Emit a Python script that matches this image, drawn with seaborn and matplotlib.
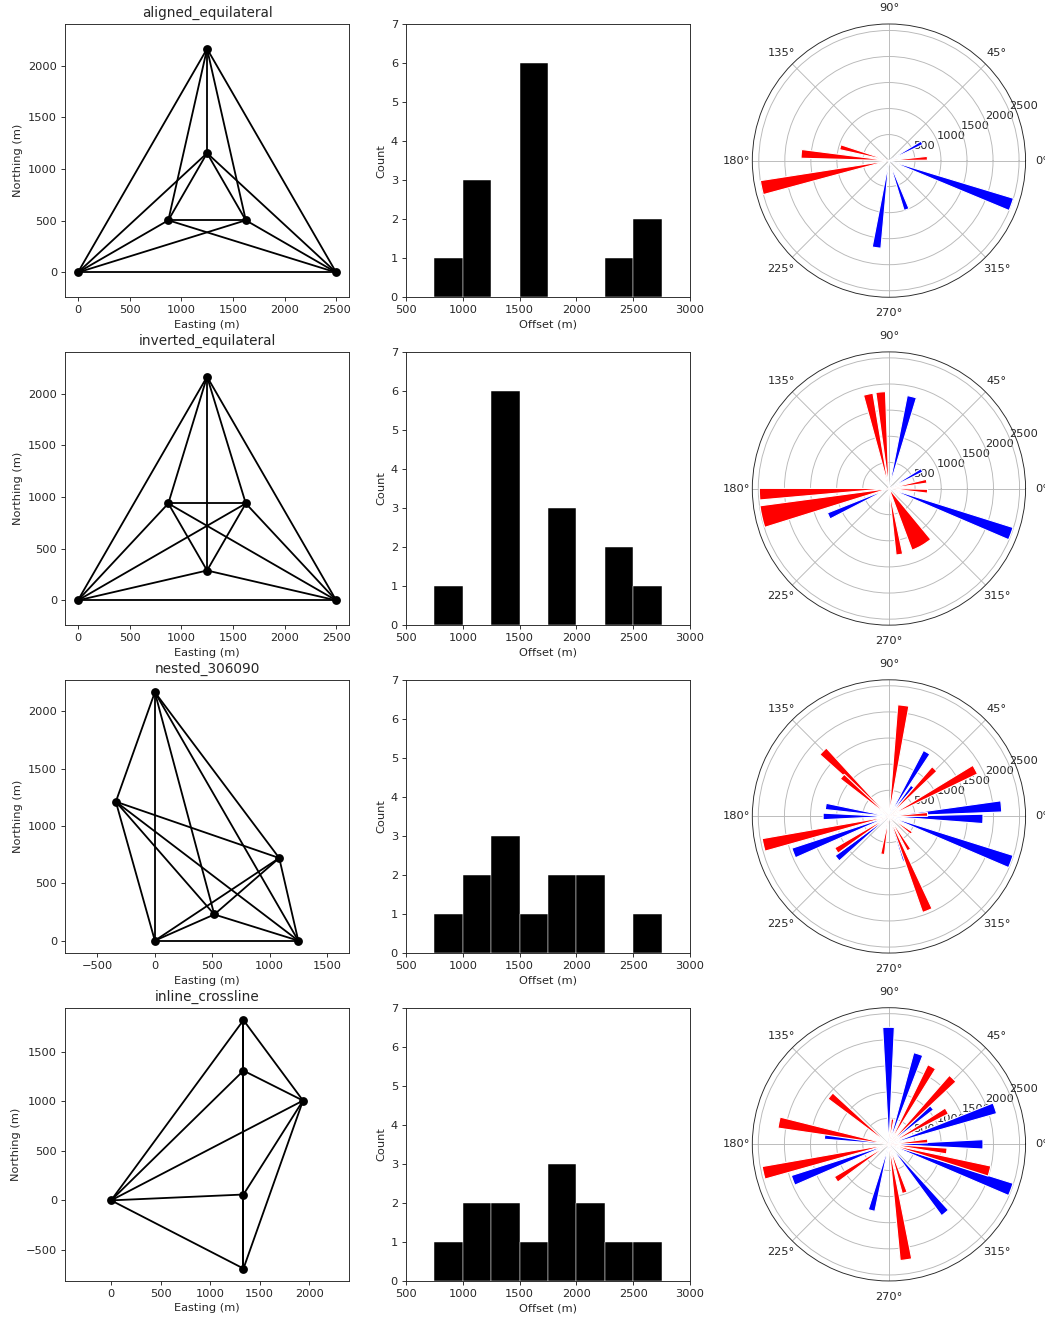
import numpy as np
import matplotlib
matplotlib.use("Agg")
import matplotlib.pyplot as plt
import seaborn as sns

sns.set_style("ticks")
plt.rcParams["font.family"] = ["DejaVu Sans"]
plt.rcParams["grid.color"] = "0.72"

# --- station layouts (easting / northing, m) ---
layout_names = ["aligned_equilateral", "inverted_equilateral", "nested_306090", "inline_crossline"]

aligned_east = [0, 2500, 1250, 1250, 875, 1625]
aligned_north = [0, 0, 2165, 1155, 505, 505]
inverted_east = [0, 2500, 1250, 875, 1625, 1250]
inverted_north = [0, 0, 2165, 938, 938, 289]
nested_east = [0, 1250, 0, -340, 1084, 518]
nested_north = [0, 0, 2165, 1211, 720, 228]
inline_east = [0, 1336, 1336, 1937, 1336, 1336]
inline_north = [0, 1819, 1309, 1007, 59, -688]

# --- offset histograms (counts per 250 m bin) ---
offset_bins = [750, 1000, 1250, 1500, 1750, 2000, 2250, 2500, 2750]
aligned_counts = [1, 3, 0, 6, 0, 0, 1, 2]
inverted_counts = [1, 0, 6, 0, 3, 0, 2, 1]
nested_counts = [1, 2, 3, 1, 2, 2, 0, 1]
inline_counts = [1, 2, 2, 1, 3, 2, 1, 1]

# --- rose diagrams: azimuth (deg), offset (m), wedge width (rad) ---
aligned_red_az = [192, 175.6, 164.6, 3.5]
aligned_red_off = [2500, 1690, 970, 740]
aligned_red_w = [0.11, 0.1, 0.1, 0.1]
aligned_blue_az = [28.4, 340.3, 289.8, 261.9]
aligned_blue_off = [720, 2500, 1000, 1690]
aligned_blue_w = [0.1, 0.1, 0.1, 0.1]

inverted_red_az = [102.4, 94.9, 182.5, 192.5, 11, 356, 300, 279]
inverted_red_off = [1850, 1855, 2480, 2490, 735, 740, 1260, 1280]
inverted_red_w = [0.1, 0.1, 0.09, 0.17, 0.1, 0.1, 0.33, 0.1]
inverted_blue_az = [76, 29, 204.5, 339.7]
inverted_blue_off = [1813, 720, 1266, 2490]
inverted_blue_w = [0.1, 0.1, 0.1, 0.1]

nested_red_az = [82.6, 135.3, 139.5, 28.5, 46.2, 3, 192.8, 213, 260.5, 301, 323.7, 292.2]
nested_red_off = [2143, 1774, 1176, 1880, 1260, 740, 2463, 1200, 734, 747, 540, 1948]
nested_red_w = [0.1] * 12
nested_blue_az = [59.5, 52, 5.1, 358.5, 339.7, 171, 180, 201, 219, 290]
nested_blue_off = [1425, 730, 2160, 1800, 2490, 1225, 1260, 1955, 1275, 900]
nested_blue_w = [0.1] * 10

inline_red_az = [61.1, 45.9, 30, 81.7, 5, 353.4, 345.1, 140.4, 168.8, 192.8, 213.6, 278.4, 288]
inline_red_off = [1696, 1755, 1280, 490, 745, 1115, 1993, 1455, 2146, 2463, 1215, 2234, 975]
inline_red_w = [0.1] * 13
inline_blue_az = [90.2, 72, 18.8, 40.7, 0, 339.7, 309.3, 255.3, 200.6, 172.6]
inline_blue_off = [2240, 1818, 2143, 1080, 1800, 2490, 1697, 1310, 1962, 1240]
inline_blue_w = [0.1] * 10

layouts = [
    (aligned_east, aligned_north, aligned_counts,
     (aligned_red_az, aligned_red_off, aligned_red_w), (aligned_blue_az, aligned_blue_off, aligned_blue_w)),
    (inverted_east, inverted_north, inverted_counts,
     (inverted_red_az, inverted_red_off, inverted_red_w), (inverted_blue_az, inverted_blue_off, inverted_blue_w)),
    (nested_east, nested_north, nested_counts,
     (nested_red_az, nested_red_off, nested_red_w), (nested_blue_az, nested_blue_off, nested_blue_w)),
    (inline_east, inline_north, inline_counts,
     (inline_red_az, inline_red_off, inline_red_w), (inline_blue_az, inline_blue_off, inline_blue_w)),
]

DPI = 82
fig = plt.figure(figsize=(1045 / DPI, 1318 / DPI))
gs = fig.add_gridspec(4, 3, left=0.0622, right=0.9866, top=0.9818, bottom=0.0281,
                      wspace=0.2, hspace=0.2)

for row, (name, (east, north, counts, red, blue)) in enumerate(zip(layout_names, layouts)):
    # 1. station layout with every receiver pair joined
    ax1 = fig.add_subplot(gs[row, 0])
    n = len(east)
    for i in range(n):
        for j in range(i + 1, n):
            ax1.plot([east[i], east[j]], [north[i], north[j]], color="black", linewidth=1.6, zorder=2)
    sns.scatterplot(x=east, y=north, color="black", s=60, linewidth=0, zorder=3, ax=ax1)
    ax1.set_aspect("equal", adjustable="datalim")
    ax1.set_title(name, fontsize=12)
    ax1.set_xlabel("Easting (m)")
    ax1.set_ylabel("Northing (m)")

    # 2. offset histogram
    ax2 = fig.add_subplot(gs[row, 1])
    centers = [(a + b) / 2 for a, b in zip(offset_bins[:-1], offset_bins[1:])]
    sns.histplot(x=centers, weights=counts, bins=offset_bins, color="black", alpha=1,
                 linewidth=0.4, ax=ax2)
    ax2.set_xlim(500, 3000)
    ax2.set_ylim(0, 7)
    ax2.set_xlabel("Offset (m)")
    ax2.set_ylabel("Count")

    # 3. azimuth / offset rose
    ax3 = fig.add_subplot(gs[row, 2], projection="polar")
    for (az, off, w), col in [(blue, "blue"), (red, "red")]:
        ax3.bar(np.deg2rad(az), off, width=w, color=col)

fig.savefig("out.png", dpi=DPI)
